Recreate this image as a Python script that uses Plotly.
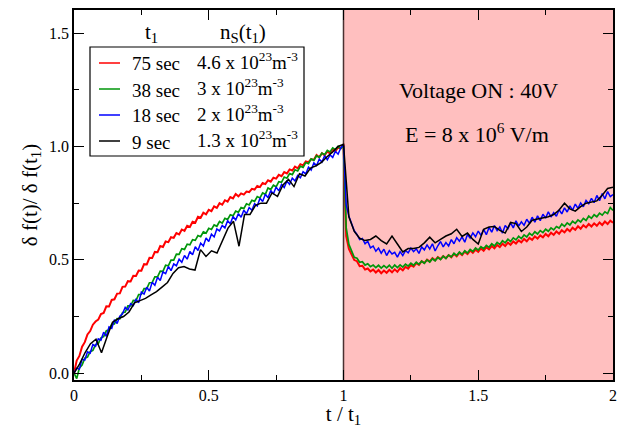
import numpy as np
import plotly.graph_objects as go

# ---------------- data ----------------
legend_t1 = ["75 sec", "38 sec", "18 sec", "9 sec"]
legend_ns = ["4.6 x 10<sup>23</sup>m<sup>-3</sup>", "3 x 10<sup>23</sup>m<sup>-3</sup>",
             "2 x 10<sup>23</sup>m<sup>-3</sup>", "1.3 x 10<sup>23</sup>m<sup>-3</sup>"]
colors = ["#ff0000", "#00960a", "#0000ff", "#000000"]

red_pre = [
    0.000, 0.056, 0.076, 0.117, 0.137, 0.171, 0.186, 0.214, 0.228, 0.236,
    0.261, 0.266, 0.295, 0.294, 0.323, 0.326, 0.351, 0.352, 0.381, 0.382,
    0.406, 0.405, 0.430, 0.429, 0.453, 0.452, 0.481, 0.480, 0.509, 0.508,
    0.535, 0.534, 0.561, 0.557, 0.581, 0.578, 0.600, 0.597, 0.618, 0.612,
    0.634, 0.628, 0.650, 0.645, 0.668, 0.664, 0.690, 0.686, 0.708, 0.701,
    0.721, 0.715, 0.736, 0.729, 0.750, 0.743, 0.763, 0.757, 0.777, 0.771,
    0.790, 0.780, 0.793, 0.788, 0.801, 0.799, 0.813, 0.810, 0.826, 0.821,
    0.839, 0.834, 0.851, 0.845, 0.862, 0.858, 0.875, 0.869, 0.887, 0.881,
    0.899, 0.894, 0.911, 0.904, 0.922, 0.917, 0.934, 0.931, 0.944, 0.941,
    0.962, 0.952, 0.970, 0.961, 0.978, 0.969, 0.988, 0.979, 0.996, 0.992,
    1.010]
red_post = [
    0.605, 0.548, 0.526, 0.499, 0.494, 0.472, 0.474, 0.457, 0.462, 0.449,
    0.457, 0.444, 0.455, 0.441, 0.453, 0.443, 0.456, 0.445, 0.458, 0.447,
    0.463, 0.454, 0.469, 0.461, 0.478, 0.470, 0.485, 0.478, 0.494, 0.486,
    0.501, 0.492, 0.507, 0.498, 0.512, 0.503, 0.516, 0.507, 0.521, 0.511,
    0.526, 0.516, 0.531, 0.521, 0.536, 0.526, 0.541, 0.531, 0.545, 0.535,
    0.550, 0.540, 0.556, 0.546, 0.561, 0.551, 0.566, 0.556, 0.571, 0.561,
    0.576, 0.566, 0.581, 0.572, 0.586, 0.577, 0.592, 0.582, 0.597, 0.588,
    0.603, 0.594, 0.608, 0.599, 0.614, 0.604, 0.620, 0.610, 0.625, 0.615,
    0.631, 0.621, 0.636, 0.626, 0.642, 0.632, 0.648, 0.637, 0.653, 0.643,
    0.658, 0.647, 0.661, 0.650, 0.665, 0.654, 0.669, 0.658, 0.673, 0.664]

green_pre = [
    0.000, -0.024, 0.023, 0.036, 0.066, 0.071, 0.095, 0.101, 0.126, 0.131,
    0.156, 0.161, 0.187, 0.190, 0.216, 0.217, 0.241, 0.240, 0.267, 0.270,
    0.297, 0.297, 0.321, 0.320, 0.347, 0.348, 0.373, 0.373, 0.399, 0.400,
    0.425, 0.425, 0.450, 0.449, 0.476, 0.474, 0.499, 0.499, 0.525, 0.524,
    0.549, 0.546, 0.569, 0.566, 0.589, 0.586, 0.607, 0.602, 0.623, 0.618,
    0.639, 0.634, 0.654, 0.648, 0.669, 0.662, 0.683, 0.678, 0.699, 0.694,
    0.715, 0.710, 0.731, 0.726, 0.747, 0.742, 0.763, 0.758, 0.779, 0.773,
    0.795, 0.789, 0.817, 0.810, 0.829, 0.822, 0.845, 0.842, 0.865, 0.860,
    0.881, 0.876, 0.897, 0.892, 0.913, 0.908, 0.929, 0.924, 0.945, 0.939,
    0.959, 0.952, 0.971, 0.964, 0.983, 0.976, 0.994, 0.986, 1.000, 0.992,
    1.003]
green_post = [
    0.641, 0.568, 0.540, 0.511, 0.507, 0.489, 0.492, 0.477, 0.483, 0.470,
    0.477, 0.466, 0.476, 0.464, 0.475, 0.465, 0.476, 0.463, 0.477, 0.466,
    0.478, 0.468, 0.481, 0.472, 0.485, 0.476, 0.490, 0.480, 0.494, 0.485,
    0.500, 0.490, 0.505, 0.496, 0.511, 0.501, 0.516, 0.506, 0.521, 0.513,
    0.529, 0.519, 0.535, 0.524, 0.540, 0.530, 0.546, 0.537, 0.552, 0.543,
    0.558, 0.549, 0.564, 0.555, 0.571, 0.561, 0.577, 0.568, 0.584, 0.575,
    0.591, 0.581, 0.597, 0.588, 0.604, 0.594, 0.610, 0.601, 0.617, 0.608,
    0.624, 0.614, 0.629, 0.620, 0.635, 0.626, 0.641, 0.632, 0.647, 0.640,
    0.658, 0.648, 0.663, 0.654, 0.670, 0.661, 0.676, 0.667, 0.683, 0.674,
    0.693, 0.683, 0.699, 0.690, 0.706, 0.697, 0.712, 0.704, 0.731, 0.718]

blue_pre = [
    0.000, 0.022, 0.018, 0.061, 0.058, 0.094, 0.088, 0.127, 0.119, 0.152,
    0.146, 0.181, 0.163, 0.204, 0.198, 0.236, 0.219, 0.251, 0.262, 0.291,
    0.279, 0.307, 0.298, 0.325, 0.311, 0.358, 0.349, 0.379, 0.362, 0.401,
    0.388, 0.423, 0.409, 0.447, 0.439, 0.471, 0.452, 0.482, 0.474, 0.503,
    0.489, 0.519, 0.503, 0.537, 0.522, 0.558, 0.541, 0.574, 0.561, 0.596,
    0.581, 0.613, 0.601, 0.636, 0.628, 0.652, 0.641, 0.673, 0.659, 0.691,
    0.676, 0.704, 0.688, 0.719, 0.703, 0.731, 0.719, 0.748, 0.738, 0.772,
    0.757, 0.789, 0.774, 0.806, 0.791, 0.821, 0.804, 0.833, 0.819, 0.847,
    0.833, 0.861, 0.848, 0.872, 0.862, 0.889, 0.879, 0.909, 0.896, 0.928,
    0.916, 0.944, 0.931, 0.959, 0.941, 0.963, 0.952, 0.979, 0.966, 0.995,
    1.006]
blue_post = [
    0.742, 0.692, 0.661, 0.628, 0.612, 0.589, 0.594, 0.571, 0.582, 0.553,
    0.561, 0.538, 0.552, 0.529, 0.547, 0.519, 0.541, 0.526, 0.533, 0.512,
    0.536, 0.519, 0.541, 0.531, 0.552, 0.536, 0.549, 0.528, 0.557, 0.544,
    0.566, 0.548, 0.571, 0.539, 0.562, 0.581, 0.557, 0.576, 0.561, 0.589,
    0.571, 0.598, 0.582, 0.601, 0.578, 0.612, 0.596, 0.619, 0.602, 0.627,
    0.608, 0.634, 0.611, 0.643, 0.622, 0.651, 0.629, 0.645, 0.618, 0.652,
    0.637, 0.663, 0.641, 0.672, 0.649, 0.668, 0.652, 0.679, 0.661, 0.688,
    0.666, 0.694, 0.673, 0.701, 0.684, 0.712, 0.689, 0.708, 0.692, 0.721,
    0.703, 0.729, 0.711, 0.738, 0.719, 0.746, 0.727, 0.751, 0.734, 0.762,
    0.748, 0.771, 0.752, 0.784, 0.761, 0.792, 0.769, 0.801, 0.779, 0.788]

black_pre = [
    0.000, 0.040, 0.090, 0.130, 0.150, 0.090, 0.160, 0.225, 0.240, 0.250,
    0.270, 0.310, 0.320, 0.330, 0.345, 0.360, 0.380, 0.400, 0.440, 0.465,
    0.470, 0.460, 0.455, 0.545, 0.515, 0.540, 0.530, 0.585, 0.640, 0.670,
    0.560, 0.700, 0.700, 0.740, 0.750, 0.750, 0.795, 0.780, 0.830, 0.855,
    0.823, 0.880, 0.870, 0.905, 0.915, 0.930, 0.955, 0.975, 1.000, 1.010]
black_post = [
    0.690, 0.625, 0.595, 0.585, 0.590, 0.605, 0.585, 0.570, 0.605, 0.570,
    0.535, 0.550, 0.550, 0.555, 0.575, 0.600, 0.575, 0.590, 0.605, 0.615,
    0.635, 0.603, 0.618, 0.590, 0.570, 0.635, 0.645, 0.647, 0.630, 0.618,
    0.665, 0.660, 0.625, 0.645, 0.675, 0.680, 0.685, 0.690, 0.700, 0.720,
    0.750, 0.725, 0.715, 0.735, 0.750, 0.755, 0.760, 0.785, 0.815, 0.820]

series_pre = [red_pre, green_pre, blue_pre, black_pre]
series_post = [red_post, green_post, blue_post, black_post]
line_widths = [2.0, 1.7, 1.5, 1.5]

x_ticks = [0, 0.5, 1, 1.5, 2]
x_ticklabels = ["0", "0.5", "1", "1.5", "2"]
y_ticks = [0.0, 0.5, 1.0, 1.5]
y_ticklabels = ["0.0", "0.5", "1.0", "1.5"]

# ---------------- figure ----------------
W, H = 623, 428
L, R, T, B = 74, 10, 10, 48
PL, PR, PT, PB = L, W - R, T, H - B


def px(x):
    return (x - PL) / (PR - PL)


def py(y):
    return (PB - y) / (PB - PT)


SERIF = "'Liberation Serif', 'Times New Roman', Times, 'DejaVu Serif', serif"

fig = go.Figure()
for ypre, ypost, c, lw, name in zip(series_pre, series_post, colors, line_widths, legend_t1):
    xpre = np.linspace(0.0, 1.0, len(ypre))
    xpost = np.linspace(1.0, 2.0, len(ypost) + 1)[1:]
    fig.add_trace(go.Scatter(
        x=np.concatenate([xpre, xpost]), y=list(ypre) + list(ypost),
        mode="lines", line=dict(color=c, width=lw), name=name,
        showlegend=False, hoverinfo="skip"))

# shaded "voltage on" region
fig.add_shape(type="rect", xref="x", yref="paper", x0=1, x1=2, y0=0, y1=1,
              fillcolor="#ffbfbf", line=dict(width=0), layer="below")
fig.add_shape(type="line", xref="x", yref="paper", x0=1, x1=1, y0=0, y1=1,
              line=dict(color="#4a3030", width=1.5), layer="below")

annotations = []
annotations.append(dict(xref="x", yref="paper", x=1.5, y=py(90),
                        text="Voltage ON : 40V", showarrow=False,
                        font=dict(family=SERIF, size=22, color="black"),
                        xanchor="center", yanchor="middle"))
annotations.append(dict(xref="x", yref="paper", x=1.495, y=py(133),
                        text="E = 8 x 10<sup>6</sup> V/m", showarrow=False,
                        font=dict(family=SERIF, size=22, color="black"),
                        xanchor="center", yanchor="middle"))

# legend (manual, two aligned columns)
fig.add_shape(type="rect", xref="paper", yref="paper",
              x0=px(90), x1=px(304), y0=py(156), y1=py(47),
              fillcolor="white", line=dict(color="black", width=1.2), layer="above")
annotations.append(dict(xref="paper", yref="paper", x=px(151), y=py(33),
                        text="t<sub>1</sub>", showarrow=False,
                        font=dict(family=SERIF, size=21, color="black"),
                        xanchor="center", yanchor="middle"))
annotations.append(dict(xref="paper", yref="paper", x=px(243), y=py(33),
                        text="n<sub>S</sub>(t<sub>1</sub>)", showarrow=False,
                        font=dict(family=SERIF, size=21, color="black"),
                        xanchor="center", yanchor="middle"))
row_y = [63, 89, 115, 141]
for ry, c, t1, ns in zip(row_y, colors, legend_t1, legend_ns):
    fig.add_shape(type="line", xref="paper", yref="paper",
                  x0=px(99), x1=px(120), y0=py(ry), y1=py(ry),
                  line=dict(color=c, width=1.5), layer="above")
    annotations.append(dict(xref="paper", yref="paper", x=px(130), y=py(ry + 1),
                            text=t1, showarrow=False,
                            font=dict(family=SERIF, size=19, color="black"),
                            xanchor="left", yanchor="middle"))
    annotations.append(dict(xref="paper", yref="paper", x=px(195), y=py(ry - 2),
                            text=ns, showarrow=False,
                            font=dict(family=SERIF, size=19, color="black"),
                            xanchor="left", yanchor="middle"))

axis_common = dict(showgrid=False, zeroline=False, showline=True,
                   linecolor="black", linewidth=1.5, mirror="ticks",
                   ticks="inside", ticklen=10, tickwidth=1.2, tickcolor="black",
                   automargin=False,
                   tickfont=dict(family=SERIF, size=16, color="black"))

fig.update_xaxes(range=[0, 2], tickvals=x_ticks, ticktext=x_ticklabels,
                 minor=dict(dtick=0.25, ticklen=5, tickwidth=1.2, tickcolor="black",
                            ticks="inside"),
                 title=dict(text="t / t<sub>1</sub>",
                            font=dict(family=SERIF, size=21, color="black"),
                            standoff=4),
                 **axis_common)
fig.update_yaxes(range=[-0.03, 1.602], tickvals=y_ticks, ticktext=y_ticklabels,
                 minor=dict(dtick=0.25, tick0=0, ticklen=5, tickwidth=1.2,
                            tickcolor="black", ticks="inside"),
                 title=dict(text="δ f(t)/ δ f(t<sub>1</sub>)",
                            font=dict(family=SERIF, size=21, color="black"),
                            standoff=6),
                 **axis_common)

fig.update_layout(width=W, height=H, autosize=False,
                  margin=dict(l=L, r=R, t=T, b=B, pad=0),
                  plot_bgcolor="white", paper_bgcolor="white",
                  font=dict(family=SERIF),
                  showlegend=False, annotations=annotations)

fig.write_html("out.html", config={"displayModeBar": False},
               post_script="document.body.style.margin='0';"
                           "document.body.style.overflow='hidden';")
